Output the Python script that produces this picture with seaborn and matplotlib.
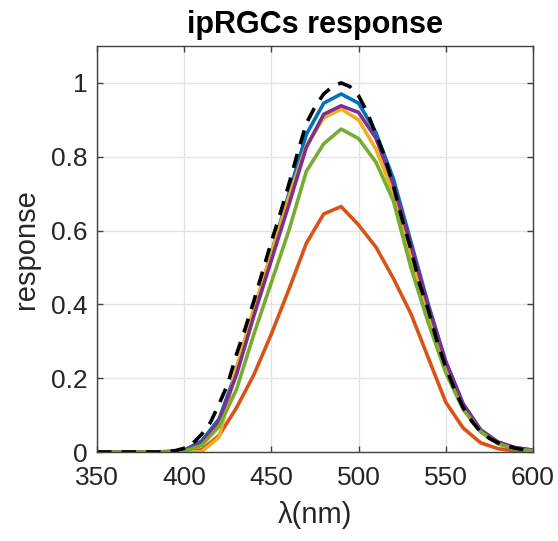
import matplotlib
matplotlib.use("Agg")
import matplotlib.pyplot as plt
import seaborn as sns
import pandas as pd

# ---- data ----
wavelength = [350, 360, 370, 380, 390, 400, 410, 420, 430, 440, 450, 460, 470,
              480, 490, 500, 510, 520, 530, 540, 550, 560, 570, 580, 590, 600]
blue = [0, 0, 0, 0, 0.001, 0.005, 0.03, 0.09, 0.22, 0.38, 0.54, 0.70, 0.86,
        0.945, 0.97, 0.945, 0.865, 0.74, 0.57, 0.40, 0.245, 0.13, 0.06, 0.026, 0.011, 0.005]
orange = [0, 0, 0, 0, 0, 0.001, 0.006, 0.045, 0.12, 0.21, 0.32, 0.44, 0.565,
          0.645, 0.665, 0.615, 0.555, 0.47, 0.375, 0.255, 0.135, 0.065, 0.025, 0.009, 0.003, 0.001]
yellow = [0, 0, 0, 0, 0, 0, 0.001, 0.04, 0.23, 0.39, 0.54, 0.69, 0.83,
          0.905, 0.929, 0.90, 0.82, 0.70, 0.53, 0.37, 0.225, 0.12, 0.055, 0.023, 0.009, 0.003]
purple = [0, 0, 0, 0, 0.001, 0.004, 0.025, 0.085, 0.21, 0.37, 0.52, 0.67, 0.825,
          0.915, 0.938, 0.92, 0.85, 0.725, 0.56, 0.395, 0.245, 0.13, 0.06, 0.027, 0.012, 0.005]
green = [0, 0, 0, 0, 0, 0.002, 0.018, 0.07, 0.17, 0.32, 0.46, 0.60, 0.76,
         0.835, 0.875, 0.849, 0.785, 0.68, 0.50, 0.35, 0.215, 0.115, 0.055, 0.022, 0.008, 0.003]

wavelength_ref = [350, 355, 360, 365, 370, 375, 380, 385, 390, 395, 400, 405, 410,
                  415, 420, 425, 430, 435, 440, 445, 450, 455, 460, 465, 470, 475,
                  480, 485, 490, 495, 500, 505, 510, 515, 520, 525, 530, 535, 540,
                  545, 550, 555, 560, 565, 570, 575, 580, 585, 590, 595, 600]
reference = [0, 0, 0, 0, 0, 0, 0, 0, 0.001, 0.004, 0.01, 0.024, 0.048,
             0.08, 0.13, 0.185, 0.265, 0.335, 0.41, 0.49, 0.57, 0.645, 0.725, 0.81, 0.89, 0.935,
             0.97, 0.99, 1.0, 0.99, 0.965, 0.92, 0.86, 0.80, 0.72, 0.63, 0.55, 0.455, 0.385,
             0.30, 0.23, 0.17, 0.12, 0.083, 0.055, 0.037, 0.025, 0.016, 0.01, 0.006, 0.004]

series_names = ["s1", "s2", "s3", "s4", "s5"]
series_colors = ["#0072BD", "#D95319", "#EDB120", "#7E2F8E", "#77AC30"]
x_ticks = [350, 400, 450, 500, 550, 600]
y_ticks = [0, 0.2, 0.4, 0.6, 0.8, 1]
y_tick_labels = ["0", "0.2", "0.4", "0.6", "0.8", "1"]

# ---- build long table ----
frames = []
for name, vals in zip(series_names, [blue, orange, yellow, purple, green]):
    frames.append(pd.DataFrame({"wl": wavelength, "resp": vals, "series": name}))
df = pd.concat(frames, ignore_index=True)
df_ref = pd.DataFrame({"wl": wavelength_ref, "resp": reference})

sns.set_theme(style="white")
plt.rcParams["font.family"] = ["Liberation Sans", "DejaVu Sans"]

fig = plt.figure(figsize=(5.58, 5.41), dpi=100)
ax = fig.add_axes([0.174, 0.1645, 0.781, 0.7505])

sns.lineplot(data=df, x="wl", y="resp", hue="series", hue_order=series_names,
             palette=series_colors, linewidth=2.6, legend=False, ax=ax,
             estimator=None, sort=False)
sns.lineplot(data=df_ref, x="wl", y="resp", color="black", linewidth=2.6,
             ax=ax, estimator=None, sort=False)
ref_line = ax.lines[-1]
ref_line.set_dashes([4.0, 2.8])
ref_line.set_dash_capstyle("butt")

ax.set_xlim(350, 600)
ax.set_ylim(0, 1.1)
ax.set_xticks(x_ticks)
ax.set_yticks(y_ticks)
ax.set_yticklabels(y_tick_labels)

ax.grid(True, color="#e3e3e3", linewidth=1.0)
ax.set_axisbelow(True)
for s in ax.spines.values():
    s.set_color("#404040")
    s.set_linewidth(1.0)
    s.set_visible(True)

ax.tick_params(axis="both", direction="in", length=4, width=1, colors="#404040",
               labelsize=19, labelcolor="#262626", top=True, right=True,
               bottom=True, left=True, pad=7)
ax.tick_params(axis="x", pad=10)

ax.set_xlabel("λ(nm)", fontsize=21, color="#262626", labelpad=8)
ax.set_ylabel("response", fontsize=21, color="#262626", labelpad=8)
ax.set_title("ipRGCs response", fontsize=22, fontweight="bold", color="black", pad=9)

fig.savefig("out.png", dpi=100)
